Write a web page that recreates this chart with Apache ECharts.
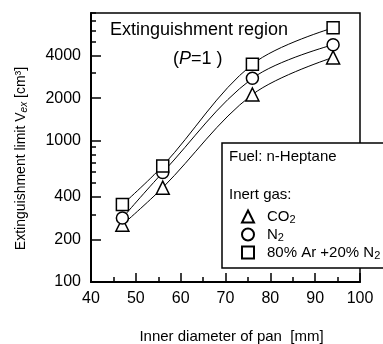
<!DOCTYPE html>
<html>
<head>
<meta charset="utf-8">
<script src="https://cdn.jsdelivr.net/npm/echarts@6/dist/echarts.min.js"></script>
<style>
html, body { margin: 0; padding: 0; background: #fff; }
#chart { width: 383px; height: 344px; }
</style>
</head>
<body>
<div id="chart"></div>
<script>
// pan inner diameter (mm)
var diameters = [47, 56, 76, 94];
// extinguishment limit volume (cm3) per inert gas
var co2 = [254, 465, 2120, 3880];
var n2 = [284, 595, 2760, 4770];
var arN2 = [353, 663, 3470, 6280];
// y axis ticks
var yLabelTicks = [100, 200, 400, 1000, 2000, 4000];
var yMinorTicks = [100, 200, 300, 400, 500, 600, 700, 800, 900, 1000, 2000, 3000, 4000, 5000, 6000, 7000, 8000];

var font = 'Liberation Sans';
var myChart = echarts.init(document.getElementById('chart'));

function pairs(ys) {
    return diameters.map(function (d, i) { return [d, ys[i]]; });
}

function gasSeries(name, symbol, ys) {
    return {
        name: name,
        type: 'line',
        smooth: 0.35,
        data: pairs(ys),
        symbol: symbol,
        symbolSize: symbol === 'triangle' ? 13 : 12,
        showAllSymbol: true,
        lineStyle: { color: '#000', width: 1 },
        itemStyle: { color: '#fff', borderColor: '#000', borderWidth: 1.5 },
        emphasis: { disabled: true },
        z: 3
    };
}

var option = {
    animation: false,
    backgroundColor: '#fff',
    textStyle: { fontFamily: font },
    grid: {
        left: 91, right: 23, top: 13, bottom: 62,
        outerBoundsMode: 'none',
        show: true, borderColor: '#000', borderWidth: 1.5, backgroundColor: 'transparent'
    },
    xAxis: {
        type: 'value',
        min: 40, max: 100, interval: 10,
        name: 'Inner diameter of pan  [mm]',
        nameLocation: 'middle',
        nameGap: 47,
        nameTextStyle: { fontSize: 15, color: '#000', fontFamily: font, padding: [0, 0, 0, 12] },
        axisLine: { lineStyle: { color: '#000', width: 2 } },
        axisTick: { inside: true, length: 9, lineStyle: { color: '#000', width: 1.5 } },
        minorTick: { show: true, splitNumber: 2, length: 5, lineStyle: { color: '#000', width: 1.5 } },
        axisLabel: { fontSize: 16, color: '#000', margin: 9, fontFamily: font },
        splitLine: { show: false }
    },
    yAxis: [{
        type: 'log',
        logBase: 10,
        min: 100, max: 8000,
        name: 'Extinguishment limit V{sub|ex} [cm³]',
        nameLocation: 'middle',
        nameGap: 62,
        nameTextStyle: {
            fontSize: 14, color: '#000', fontFamily: font, padding: [0, 22, 0, 0],
            rich: { sub: { fontSize: 10, fontStyle: 'italic', padding: [6, 0, 0, 0], fontFamily: font } }
        },
        axisLine: { lineStyle: { color: '#000', width: 2 } },
        axisTick: { inside: true, length: 10, customValues: yLabelTicks, lineStyle: { color: '#000', width: 1.5 } },
        axisLabel: {
            customValues: yLabelTicks, fontSize: 16, color: '#000', margin: 10, fontFamily: font,
            formatter: function (v) { return String(v); }
        },
        splitLine: { show: false }
    }, {
        // short ticks only
        type: 'log',
        logBase: 10,
        min: 100, max: 8000,
        position: 'left',
        axisLine: { show: false },
        axisTick: { inside: true, length: 5, customValues: yMinorTicks, lineStyle: { color: '#000', width: 1.5 } },
        axisLabel: { show: false },
        splitLine: { show: false }
    }],
    legend: {
        orient: 'vertical',
        left: 236,
        top: 203,
        itemWidth: 12,
        itemHeight: 12,
        itemGap: 1,
        z: 10,
        selectedMode: false,
        data: [
            { name: 'CO2', icon: 'triangle' },
            { name: 'N2', icon: 'circle' },
            { name: '80% Ar +20% N2', icon: 'rect' }
        ],
        formatter: function (name) {
            if (name === 'CO2') return 'CO{sub|2}';
            if (name === 'N2') return 'N{sub|2}';
            return '80% Ar +20% N{sub|2}';
        },
        textStyle: {
            fontSize: 15, lineHeight: 16, color: '#000', fontFamily: font, padding: [0, 0, 0, 8],
            rich: { sub: { fontSize: 11, lineHeight: 12, padding: [6, 0, 0, 0], fontFamily: font } }
        }
    },
    graphic: [
        {
            type: 'rect', z: 5,
            shape: { x: 222, y: 143, width: 180, height: 125 },
            style: { fill: '#fff', stroke: '#000', lineWidth: 1.5 }
        },
        {
            type: 'text', z: 6, left: 229, top: 149,
            style: { text: 'Fuel: n-Heptane', font: '15px "Liberation Sans"', fill: '#000' }
        },
        {
            type: 'text', z: 6, left: 229, top: 187,
            style: { text: 'Inert gas:', font: '15px "Liberation Sans"', fill: '#000' }
        },
        {
            type: 'text', z: 6, left: 110, top: 21,
            style: { text: 'Extinguishment region', font: '18px "Liberation Sans"', fill: '#000' }
        },
        {
            type: 'text', z: 6, left: 173, top: 50,
            style: {
                text: '({i|P}=1 )',
                font: '18px "Liberation Sans"', fill: '#000',
                rich: { i: { fontStyle: 'italic', fontSize: 18, fontFamily: font } }
            }
        }
    ],
    series: [
        gasSeries('CO2', 'triangle', co2),
        gasSeries('N2', 'circle', n2),
        gasSeries('80% Ar +20% N2', 'rect', arN2)
    ]
};
myChart.setOption(option);
</script>
</body>
</html>
